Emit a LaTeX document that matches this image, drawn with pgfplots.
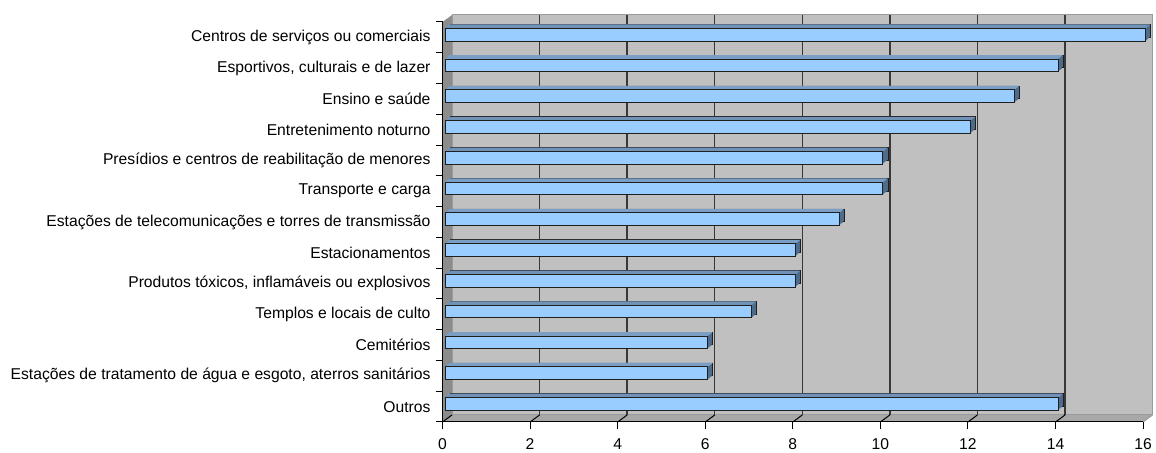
\documentclass[border=0pt]{standalone}
\usepackage{fontspec}
\setmainfont{Liberation Sans}
\usepackage{pgfplots}
\usepackage{pgfplotstable}
\pgfplotsset{compat=1.18}
\definecolor{wall}{HTML}{C0C0C0}
\definecolor{walledge}{HTML}{9A9A9A}
\definecolor{leftwall}{HTML}{8C8C8C}
\definecolor{floorc}{HTML}{A8A8A8}
\definecolor{gridc}{HTML}{383838}
\definecolor{barfront}{HTML}{99CCFF}
\definecolor{bartop}{HTML}{7A9EC4}
\definecolor{barside}{HTML}{4D6B8A}
\definecolor{baredge}{HTML}{1F1F1F}
\pgfplotstableread{
c v
0 14
1 6
2 6
3 7
4 8
5 8
6 9
7 10
8 10
9 12
10 13
11 14
12 16
}\data
\begin{document}
\begin{tikzpicture}
\path[use as bounding box] (0,0) rectangle (867pt,339.75pt);
\begin{axis}[
  at={(331.9pt,23.25pt)}, anchor=south west, scale only axis,
  width=525.4pt, height=300pt,
  xmin=0, xmax=16, ymin=-0.5, ymax=12.5,
  axis lines*=left, axis on top, clip=false,
  axis line style={black, line width=0.75pt},
  xtick={0,2,...,16}, ytick={0,...,12},
  yticklabels={Outros,
    Estações de tratamento de água e esgoto{,} aterros sanitários,
    Cemitérios,
    Templos e locais de culto,
    {Produtos tóxicos, inflamáveis ou explosivos},
    Estacionamentos,
    Estações de telecomunicações e torres de transmissão,
    Transporte e carga,
    Presídios e centros de reabilitação de menores,
    Entretenimento noturno,
    Ensino e saúde,
    {Esportivos, culturais e de lazer},
    Centros de serviços ou comerciais},
  minor ytick={-0.5,0.5,...,12.5},
  tick align=outside, major tick length=5.5pt, minor tick length=5.25pt,
  major y tick style={draw=none},
  tick style={black, line width=0.75pt},
  font=\fontsize{11.75}{13.5}\selectfont,
  /pgf/number format/assume math mode=true,
  xticklabel style={yshift=-3.3pt},
  yticklabel style={xshift=0pt},
]
\fill[leftwall] (rel axis cs:0,0) -- (rel axis cs:0,1) -- ([shift={(7.1pt,5.25pt)}]rel axis cs:0,1) -- ([shift={(7.1pt,5.25pt)}]rel axis cs:0,0) -- cycle;
\fill[floorc] (rel axis cs:0,0) -- (rel axis cs:1,0) -- ([shift={(7.1pt,5.25pt)}]rel axis cs:1,0) -- ([shift={(7.1pt,5.25pt)}]rel axis cs:0,0) -- cycle;
\filldraw[fill=wall, draw=walledge, line width=0.75pt] ([shift={(7.1pt,5.25pt)}]rel axis cs:0,0) rectangle ([shift={(7.1pt,5.25pt)}]rel axis cs:1,1);
\draw[walledge, line width=0.75pt] (rel axis cs:1,0) -- ([shift={(7.1pt,5.25pt)}]rel axis cs:1,0);
\pgfplotsinvokeforeach{2,4,...,14}{
  \draw[gridc, line width=1.1pt] ([shift={(7.1pt,5.25pt)}]axis cs:#1,-0.5) -- ([shift={(7.1pt,5.25pt)}]axis cs:#1,12.5);
}
\pgfplotsinvokeforeach{0,2,...,14}{
  \draw[black, line width=0.75pt] (axis cs:#1,-0.5) -- ([shift={(7.1pt,5.25pt)}]axis cs:#1,-0.5);
}
% 3D bars: extrusion (side colour), top face strips, front face
\addplot[xbar, bar shift=0pt, bar width=9.5pt, fill=barside, draw=baredge, line width=0.5pt, xshift=5.65pt, yshift=5pt, forget plot] table[x=v,y=c]{\data};
\addplot[xbar, bar shift=0pt, bar width=9.5pt, fill=barside, draw=none, xshift=4.71pt, yshift=4.25pt, forget plot] table[x=v,y=c]{\data};
\addplot[xbar, bar shift=0pt, bar width=9.5pt, fill=barside, draw=none, xshift=3.78pt, yshift=3.5pt, forget plot] table[x=v,y=c]{\data};
\addplot[xbar, bar shift=0pt, bar width=9.5pt, fill=barside, draw=none, xshift=2.84pt, yshift=2.75pt, forget plot] table[x=v,y=c]{\data};
\addplot[xbar, bar shift=0pt, bar width=0.8pt, fill=bartop, draw=none, xshift=2.37pt, yshift=7.125pt, forget plot] table[x=v,y=c]{\data};
\addplot[xbar, bar shift=0pt, bar width=0.8pt, fill=bartop, draw=none, xshift=3.31pt, yshift=7.875pt, forget plot] table[x=v,y=c]{\data};
\addplot[xbar, bar shift=0pt, bar width=0.8pt, fill=bartop, draw=none, xshift=4.24pt, yshift=8.625pt, forget plot] table[x=v,y=c]{\data};
\addplot[xbar, bar shift=0pt, bar width=0.7pt, fill=bartop, draw=none, xshift=5.18pt, yshift=9.35pt, forget plot] table[x=v,y=c]{\data};
\addplot[xbar, bar shift=0pt, bar width=9.5pt, fill=barfront, draw=baredge, line width=0.75pt, xshift=1.9pt, yshift=2pt, forget plot] table[x=v,y=c]{\data};
\end{axis}
\end{tikzpicture}
\end{document}
